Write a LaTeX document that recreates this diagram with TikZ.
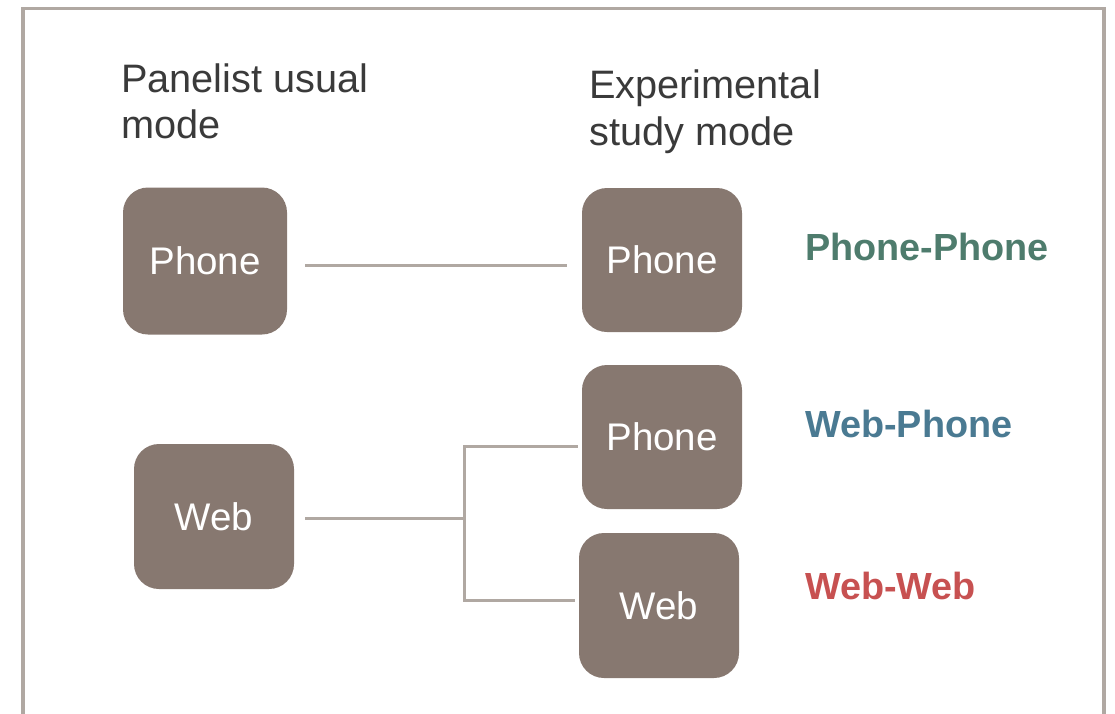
\documentclass[tikz,border=0pt]{standalone}
\usepackage{fontspec}
\setmainfont{Liberation Sans}
\definecolor{boxfill}{HTML}{877870}
\definecolor{linegray}{HTML}{B0A8A2}
\definecolor{headtext}{HTML}{3A3A3A}
\definecolor{ppgreen}{HTML}{4E7C6D}
\definecolor{wpblue}{HTML}{4A7A92}
\definecolor{wwred}{HTML}{C75151}
\tikzset{
  modebox/.style={fill=boxfill, draw=none, rounded corners=25pt, text=white,
    font=\fontsize{38.5}{44}\selectfont, inner sep=0pt},
  link/.style={draw=linegray, line width=3pt},
  frame/.style={draw=linegray, line width=3.5pt},
  heading/.style={text=headtext, font=\fontsize{39.7}{46.5}\selectfont, align=left,
    anchor=base west, inner sep=0pt},
  result/.style={font=\bfseries\fontsize{37.8}{44}\selectfont, anchor=base west, inner sep=0pt}
}
\begin{document}
\begin{tikzpicture}[x=1pt,y=-1pt]
  \useasboundingbox (0,0) rectangle (1115,713);
  % open frame around the diagram
  \draw[frame] (23,720) -- (23,8.5) -- (1104,8.5) -- (1104,720);

  % column headings (anchored on the baseline of their last line)
  \node[heading] (hUsual) at (121,138.5) {Panelist usual\\mode};
  \node[heading] (hStudy) at (589,145) {Experimental\\study mode};

  % usual mode boxes
  \node[modebox, minimum width=164pt, minimum height=147pt] (uPhone) at (205,261) {Phone};
  \node[modebox, minimum width=160pt, minimum height=145pt] (uWeb) at (214,516.5) {Web};

  % study mode boxes
  \node[modebox, minimum width=160pt, minimum height=144pt] (sPhoneA) at (662,260) {Phone};
  \node[modebox, minimum width=160pt, minimum height=144pt] (sPhoneB) at (662,437) {Phone};
  \node[modebox, minimum width=160pt, minimum height=145pt] (sWeb) at (659,605.5) {Web};

  % group labels
  \node[result, text=ppgreen] (rPP) at (805,260) {Phone-Phone};
  \node[result, text=wpblue] (rWP) at (805,437) {Web-Phone};
  \node[result, text=wwred] (rWW) at (805,599) {Web-Web};

  % connectors
  \coordinate (top) at (0,265);
  \draw[link] ([xshift=18pt]uPhone.east |- top) -- ([xshift=-15pt]sPhoneA.west |- top);

  \coordinate (j) at (464,518);
  \coordinate (jt) at (464,446);
  \coordinate (jb) at (464,600);
  \draw[link] ([xshift=11pt]uWeb.east |- j) -- (j);
  \draw[link] ([xshift=-4pt]sPhoneB.west |- jt) -- (jt) -- (jb) -- ([xshift=-4pt]sWeb.west |- jb);
\end{tikzpicture}
\end{document}
